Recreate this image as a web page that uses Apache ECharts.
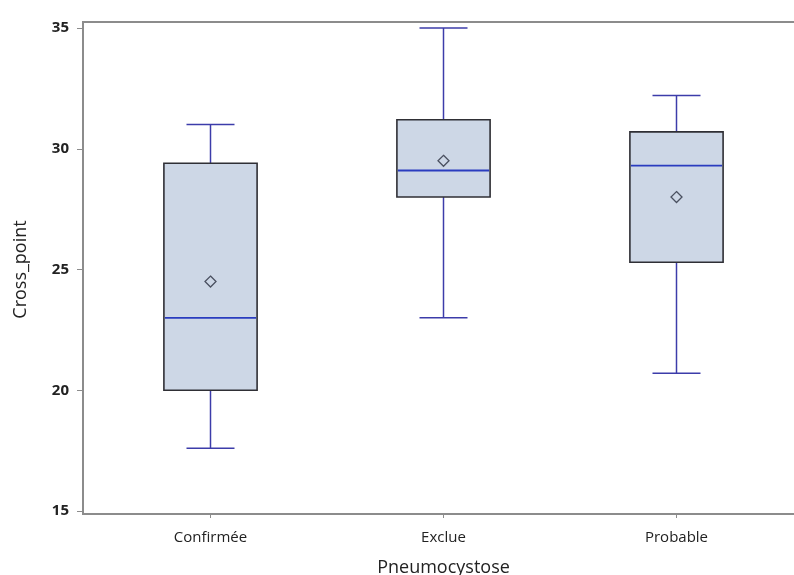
<!DOCTYPE html>
<html>
<head>
<meta charset="utf-8">
<script src="https://cdn.jsdelivr.net/npm/echarts@6/dist/echarts.min.js"></script>
<style>
  html, body { margin: 0; padding: 0; background: #ffffff; }
  #chart { width: 794px; height: 575px; }
</style>
</head>
<body>
<div id="chart"></div>
<script>
// Cross_point distribution by Pneumocystose status
const categories = ['Confirmée', 'Exclue', 'Probable'];
const whiskerLow = [17.6, 23.0, 20.7];
const quartile1 = [20.0, 28.0, 25.3];
const medians = [23.0, 29.1, 29.3];
const quartile3 = [29.4, 31.2, 30.7];
const whiskerHigh = [31.0, 35.0, 32.2];
const means = [24.5, 29.5, 28.0];
const yTicks = [15, 20, 25, 30, 35];

const boxData = categories.map((c, i) => [
  i, whiskerLow[i], quartile1[i], medians[i], quartile3[i], whiskerHigh[i], means[i]
]);

function renderBox(params, api) {
  const idx = api.value(0);
  const band = api.size([1, 0])[0];
  const boxW = band * 0.4;
  const capW = band * 0.206;
  const pLo = api.coord([idx, api.value(1)]);
  const pQ1 = api.coord([idx, api.value(2)]);
  const pMed = api.coord([idx, api.value(3)]);
  const pQ3 = api.coord([idx, api.value(4)]);
  const pHi = api.coord([idx, api.value(5)]);
  const pMean = api.coord([idx, api.value(6)]);
  const cx = pMed[0];
  const whiskerStyle = { stroke: '#3c3caa', lineWidth: 1.5 };
  const d = 5.5;
  return {
    type: 'group',
    children: [
      { type: 'line', shape: { x1: cx, y1: pHi[1], x2: cx, y2: pQ3[1] }, style: whiskerStyle },
      { type: 'line', shape: { x1: cx, y1: pQ1[1], x2: cx, y2: pLo[1] }, style: whiskerStyle },
      { type: 'line', shape: { x1: cx - capW / 2, y1: pHi[1], x2: cx + capW / 2, y2: pHi[1] }, style: whiskerStyle },
      { type: 'line', shape: { x1: cx - capW / 2, y1: pLo[1], x2: cx + capW / 2, y2: pLo[1] }, style: whiskerStyle },
      {
        type: 'rect',
        shape: { x: cx - boxW / 2, y: pQ3[1], width: boxW, height: pQ1[1] - pQ3[1] },
        style: { fill: '#cdd7e6', stroke: '#2f2f35', lineWidth: 1.6 }
      },
      {
        type: 'line',
        shape: { x1: cx - boxW / 2 + 1, y1: pMed[1], x2: cx + boxW / 2 - 1, y2: pMed[1] },
        style: { stroke: '#2a3cbf', lineWidth: 1.8 }
      },
      {
        type: 'polygon',
        shape: { points: [[pMean[0], pMean[1] - d], [pMean[0] + d, pMean[1]], [pMean[0], pMean[1] + d], [pMean[0] - d, pMean[1]]] },
        style: { fill: 'none', stroke: '#4a5060', lineWidth: 1.3 }
      }
    ]
  };
}

const chart = echarts.init(document.getElementById('chart'));
chart.setOption({
  animation: false,
  backgroundColor: '#ffffff',
  textStyle: { fontFamily: 'Open Sans' },
  grid: [
    // outer frame; its right side runs past the canvas edge
    { left: 83, top: 22, width: 760, bottom: 61, show: true, borderColor: '#8c8c8c', borderWidth: 2, backgroundColor: 'transparent', outerBoundsMode: 'none', containLabel: false },
    // data area
    { left: 94, top: 28, right: 1, bottom: 64, outerBoundsMode: 'none', containLabel: false }
  ],
  xAxis: [
    { gridIndex: 0, type: 'value', show: false, min: 0, max: 1 },
    {
      gridIndex: 1,
      type: 'category',
      data: categories,
      offset: 3,
      axisLine: { show: false },
      axisTick: { show: true, alignWithLabel: true, length: 4, lineStyle: { color: '#8c8c8c', width: 1 } },
      axisLabel: { color: '#222', fontSize: 15, margin: 16, fontFamily: 'Open Sans' },
      splitLine: { show: false },
      name: 'Pneumocystose',
      nameLocation: 'middle',
      nameGap: 45,
      nameTextStyle: { color: '#222', fontSize: 18, fontFamily: 'Open Sans' }
    }
  ],
  yAxis: [
    { gridIndex: 0, type: 'value', show: false, min: 0, max: 1 },
    {
      gridIndex: 1,
      type: 'value',
      min: yTicks[0],
      max: yTicks[yTicks.length - 1],
      interval: 5,
      offset: 11,
      axisLine: { show: false },
      axisTick: { show: true, length: 6, lineStyle: { color: '#8c8c8c', width: 1 } },
      axisLabel: { color: '#222', fontSize: 15, fontWeight: 'bold', margin: 14, fontFamily: 'Open Sans' },
      splitLine: { show: false },
      name: 'Cross_point',
      nameLocation: 'middle',
      nameGap: 53,
      nameTextStyle: { color: '#222', fontSize: 18, fontFamily: 'Open Sans' }
    }
  ],
  series: [
    {
      type: 'custom',
      xAxisIndex: 1,
      yAxisIndex: 1,
      data: boxData,
      encode: { x: 0, y: [1, 2, 3, 4, 5, 6] },
      renderItem: renderBox
    }
  ]
});
</script>
</body>
</html>
